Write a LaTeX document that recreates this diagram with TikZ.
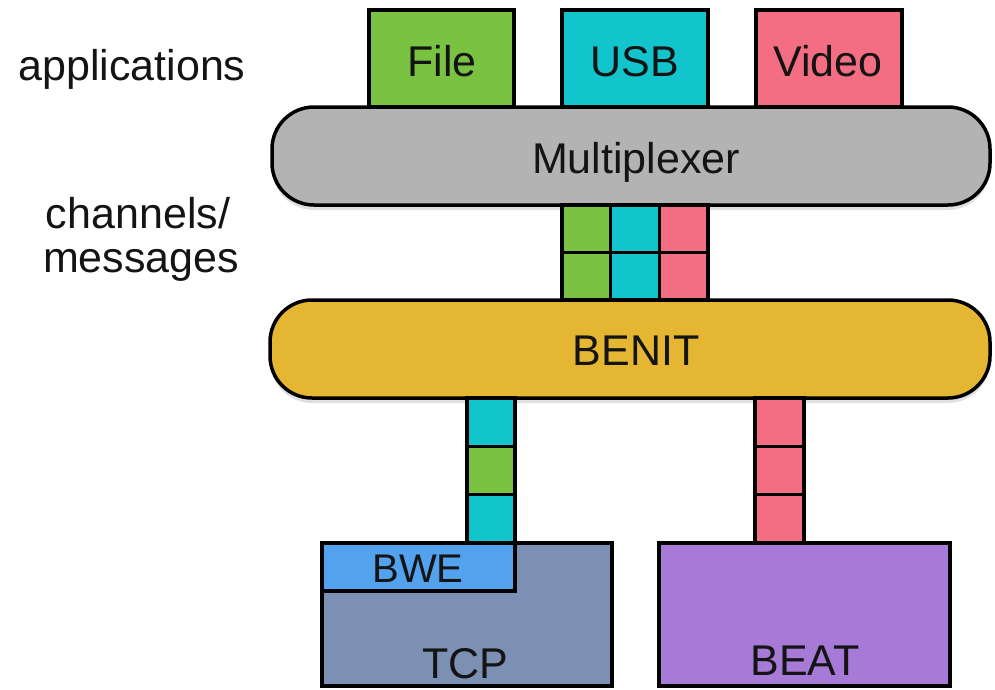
\documentclass[tikz,border=0pt]{standalone}
\usepackage{fontspec}
\setmainfont{Liberation Sans}
\usetikzlibrary{shadows}
\definecolor{cfile}{RGB}{122,194,66}
\definecolor{cusb}{RGB}{18,197,204}
\definecolor{cvid}{RGB}{243,110,130}
\definecolor{cmux}{RGB}{179,179,179}
\definecolor{cbenit}{RGB}{228,182,50}
\definecolor{cbwe}{RGB}{82,162,238}
\definecolor{ctcp}{RGB}{124,144,180}
\definecolor{cbeat}{RGB}{166,122,214}
\definecolor{ctxt}{RGB}{20,20,20}
\tikzset{
  box/.style={draw=black, line width=3.5pt, rectangle, inner sep=0pt},
  pill/.style={box, rounded corners=42pt, drop shadow={shadow xshift=0pt, shadow yshift=-5pt, opacity=0.12, fill=black}},
  lbl/.style={anchor=base, inner sep=0pt, text=ctxt, font=\fontsize{43}{43}\selectfont},
  side/.style={anchor=base, inner sep=0pt, text=ctxt, align=center, font=\fontsize{43}{43}\selectfont},
  sq/.style={box, minimum width=48.7pt, minimum height=47.5pt},
  lsq/.style={box, minimum width=48pt, minimum height=48.3pt}
}
\begin{document}
\begin{tikzpicture}[x=1pt,y=-1pt]
\useasboundingbox (0,0) rectangle (995,689);
% side labels
\node[side] (apps) at (132,80) {applications};
\node[side] (chan) at (138,228) {channels/};
\node[side] (msgs) at (141,272) {messages};
% application boxes
\node[box, fill=cfile, minimum width=145pt, minimum height=97pt] (file) at (441.5,58.5) {};
\node[box, fill=cusb, minimum width=146pt, minimum height=97pt] (usb) at (635,58.5) {};
\node[box, fill=cvid, minimum width=146pt, minimum height=97pt] (video) at (829,58.5) {};
\node[lbl] (filet) at (442,76) {File};
\node[lbl] (usbt) at (635,76) {USB};
\node[lbl] (videot) at (828,76) {Video};
% multiplexer
\node[pill, fill=cmux, minimum width=718pt, minimum height=98pt] (mux) at (631,156) {};
\node[lbl] (muxt) at (636,173) {Multiplexer};
% channel squares
\node[sq, fill=cfile] (c11) at (586.35,228.75) {};
\node[sq, fill=cusb]  (c12) at (635,228.75) {};
\node[sq, fill=cvid]  (c13) at (683.65,228.75) {};
\node[sq, fill=cfile] (c21) at (586.35,276.25) {};
\node[sq, fill=cusb]  (c22) at (635,276.25) {};
\node[sq, fill=cvid]  (c23) at (683.65,276.25) {};
% BENIT
\node[pill, fill=cbenit, minimum width=720pt, minimum height=98pt] (benit) at (630,349) {};
\node[lbl] (benitt) at (636,365) {BENIT};
% left column
\node[lsq, fill=cusb]  (l1) at (491,422.15) {};
\node[lsq, fill=cfile] (l2) at (491,470.5) {};
\node[lsq, fill=cusb]  (l3) at (491,518.85) {};
% right column
\node[lsq, fill=cvid, minimum width=49pt] (r1) at (779.5,422.15) {};
\node[lsq, fill=cvid, minimum width=49pt] (r2) at (779.5,470.5) {};
\node[lsq, fill=cvid, minimum width=49pt] (r3) at (779.5,518.85) {};
% TCP / BWE
\node[box, fill=ctcp, minimum width=290pt, minimum height=143pt] (tcp) at (467,614.5) {};
\node[box, fill=cbwe, minimum width=193pt, minimum height=48pt] (bwe) at (418.5,567) {};
\node[lbl, font=\fontsize{40}{40}\selectfont] (bwet) at (418,582) {BWE};
\node[lbl] (tcpt) at (465,678) {TCP};
% BEAT
\node[box, fill=cbeat, minimum width=291pt, minimum height=143pt] (beat) at (804.5,614.5) {};
\node[lbl] (beatt) at (805,675) {BEAT};
\end{tikzpicture}
\end{document}
